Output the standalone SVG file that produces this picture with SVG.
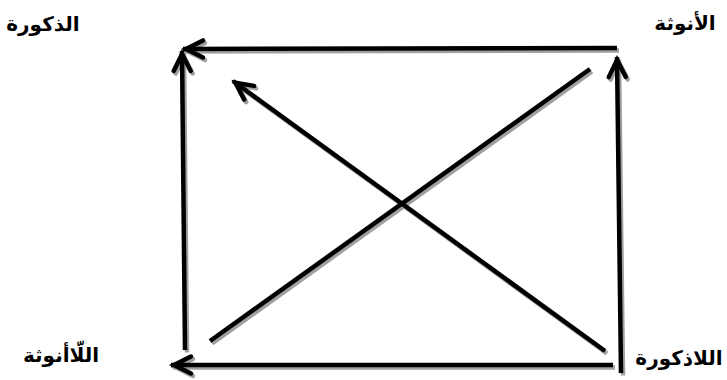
<svg xmlns="http://www.w3.org/2000/svg" width="727" height="380" viewBox="0 0 727 380">
<style>
.lbl{font-family:"DejaVu Sans",sans-serif;font-weight:bold;font-size:20px;fill:#000;text-anchor:middle}
.ln{fill:none;stroke-width:4.5;stroke-linecap:butt}
.blk{stroke:#000}
.shd{stroke:#a0a0a0}
</style>
<defs>
<marker id="ahB" markerUnits="userSpaceOnUse" markerWidth="40" markerHeight="40" viewBox="-30 -20 40 40" refX="0" refY="0" orient="auto" overflow="visible">
<path d="M -20 -8.5 L -3 0 L -20 8.5" fill="none" stroke="#000" stroke-width="4.5" stroke-linejoin="miter" stroke-linecap="round"/>
</marker>
<marker id="ahG" markerUnits="userSpaceOnUse" markerWidth="40" markerHeight="40" viewBox="-30 -20 40 40" refX="0" refY="0" orient="auto" overflow="visible">
<path d="M -20 -8.5 L -3 0 L -20 8.5" fill="none" stroke="#a0a0a0" stroke-width="4.5" stroke-linejoin="miter" stroke-linecap="round"/>
</marker>
</defs>
<g id="connectors">
<g id="shadows" transform="translate(2,2.5)">
<line class="ln shd" x1="617" y1="48" x2="183" y2="49" marker-end="url(#ahG)"/>
<line class="ln shd" x1="185" y1="350" x2="182" y2="51" marker-end="url(#ahG)"/>
<line class="ln shd" x1="613" y1="365" x2="171" y2="365" marker-end="url(#ahG)"/>
<line class="ln shd" x1="621" y1="373" x2="617" y2="57" marker-end="url(#ahG)"/>
<line class="ln shd" x1="210" y1="341" x2="590" y2="69"/>
<line class="ln shd" x1="605" y1="351" x2="233" y2="81" marker-end="url(#ahG)"/>
</g>
<g id="lines">
<line class="ln blk" x1="617" y1="48" x2="183" y2="49" marker-end="url(#ahB)"/>
<line class="ln blk" x1="185" y1="350" x2="182" y2="51" marker-end="url(#ahB)"/>
<line class="ln blk" x1="613" y1="365" x2="171" y2="365" marker-end="url(#ahB)"/>
<line class="ln blk" x1="621" y1="373" x2="617" y2="57" marker-end="url(#ahB)"/>
<line class="ln blk" x1="210" y1="341" x2="590" y2="69"/>
<line class="ln blk" x1="605" y1="351" x2="233" y2="81" marker-end="url(#ahB)"/>
</g>
</g>
<g id="node-masculinity"><text class="lbl" x="43" y="31">الذكورة</text></g>
<g id="node-femininity"><text class="lbl" x="685" y="30">الأنوثة</text></g>
<g id="node-nonfemininity"><text class="lbl" x="61" y="362">اللّاأنوثة</text></g>
<g id="node-nonmasculinity"><text class="lbl" x="679" y="365">اللاذكورة</text></g>
</svg>
